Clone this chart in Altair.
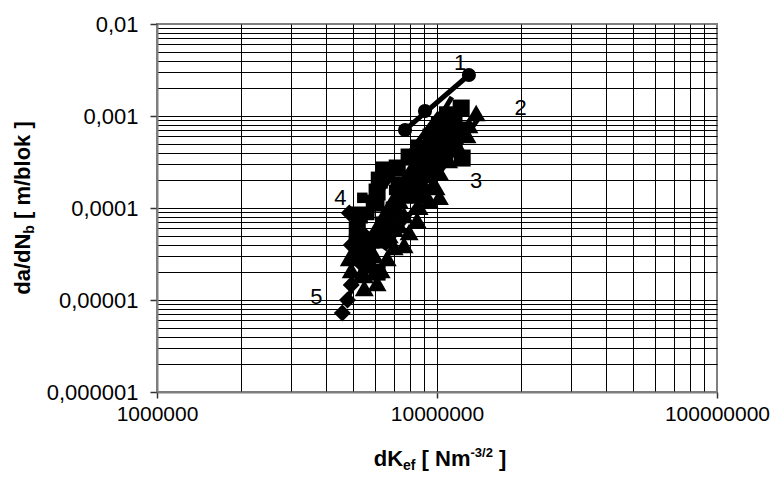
import altair as alt
import pandas as pd

# ---------------- data ----------------
# curve 1 : circles
circ_x = [7.69e6, 9.06e6, 1.30e7]
circ_y = [7.05e-4, 1.13e-3, 2.79e-3]

# triangles
tri_x = [1.38e7, 1.30e7, 1.28e7, 1.18e7, 1.10e7, 1.02e7, 9.92e6, 1.02e7, 8.99e6, 8.63e6,
         8.49e6, 7.95e6, 7.63e6, 7.03e6, 6.64e6, 6.32e6, 6.11e6, 5.50e6, 4.94e6, 4.86e6,
         9.37e6, 8.28e6, 7.32e6, 6.75e6,
         8.99e6, 7.95e6, 7.32e6, 6.22e6, 5.97e6, 7.03e6, 7.63e6, 5.73e6, 5.50e6]
tri_y = [1.08e-3, 7.98e-4, 6.21e-4, 4.84e-4, 3.32e-4, 2.46e-4, 1.69e-4, 1.32e-4, 1.78e-4, 1.03e-4,
         7.41e-5, 5.48e-5, 3.96e-5, 3.77e-5, 2.86e-5, 2.12e-5, 1.53e-5, 1.35e-5, 2.12e-5, 2.86e-5,
         1.22e-4, 1.38e-4, 6.54e-5, 5.09e-5,
         2.28e-4, 1.57e-4, 1.22e-4, 5.77e-5, 3.08e-5, 6.07e-5, 8.39e-5, 3.50e-5, 1.87e-5]

# large squares
sq_x = [1.22e7, 1.09e7, 1.02e7, 9.52e6, 8.63e6, 7.95e6, 1.23e7, 6.48e6, 7.21e6, 6.22e6,
        6.11e6, 5.97e6, 5.28e6, 5.19e6, 5.19e6, 5.28e6, 6.11e6, 8.63e6, 7.32e6, 9.37e6,
        7.03e6, 6.48e6, 5.82e6, 7.63e6, 1.06e7, 1.15e7,
        9.37e6, 8.28e6, 1.06e7, 1.15e7, 1.20e7, 9.76e6, 8.63e6, 6.75e6, 6.48e6, 5.64e6]
sq_y = [1.22e-3, 1.03e-3, 7.98e-4, 5.91e-4, 4.49e-4, 3.58e-4, 3.49e-4, 2.59e-4, 2.72e-4, 2.01e-4,
        1.49e-4, 1.13e-4, 8.39e-5, 5.77e-5, 4.17e-5, 3.08e-5, 2.01e-5, 2.93e-4, 1.78e-4, 4.27e-4,
        9.51e-5, 6.54e-5, 4.49e-5, 1.38e-4, 5.48e-4, 7.98e-4,
        2.59e-4, 2.01e-4, 3.77e-4, 5.48e-4, 7.05e-4, 3.32e-4, 1.38e-4, 8.39e-5, 4.49e-5, 2.40e-5]

# small squares
ssq_x = [5.41e6, 5.73e6, 6.22e6, 7.03e6, 7.95e6, 8.99e6]
ssq_y = [1.29e-4, 8.39e-5, 1.08e-4, 1.57e-4, 2.28e-4, 3.32e-4]

# diamonds
dia_x = [4.59e6, 4.79e6, 4.94e6, 4.86e6, 5.19e6, 4.94e6, 5.28e6, 5.50e6]
dia_y = [7.23e-6, 1.0e-5, 1.46e-5, 8.83e-5, 7.05e-5, 3.96e-5, 2.59e-5, 5.09e-5]

# fitted lines (end points)
line_id = ["1", "1", "2", "2", "3", "3", "4", "4", "5", "5"]
line_x = [7.69e6, 1.30e7, 5.07e6, 1.13e7, 6.48e6, 1.41e7, 5.15e6, 1.02e7, 4.67e6, 7.63e6]
line_y = [7.05e-4, 2.79e-3, 2.59e-5, 1.61e-3, 3.5e-5, 9.5e-4, 6.54e-5, 1.10e-3, 8.82e-6, 2.01e-4]

# curve labels
lab_text = ["1", "2", "3", "4", "5"]
lab_x = [1.21e7, 1.99e7, 1.38e7, 4.52e6, 3.71e6]
lab_y = [3.77e-3, 1.22e-3, 1.96e-4, 1.29e-4, 1.08e-5]

# axis ticks / grid
x_grid = [m * 10 ** e for e in (6, 7) for m in range(1, 10)] + [1e8]
y_grid = [m * 10.0 ** e for e in (-6, -5, -4, -3) for m in range(1, 10)] + [1e-2]

FONT = "Liberation Sans"
W, H = 560, 368
LEFT, TOP = 157, 24

xs = alt.Scale(type="log", domain=[1e6, 1e8], nice=False)
ys = alt.Scale(type="log", domain=[1e-6, 1e-2], nice=False)

is_major = "abs(log(datum.value)/LN10 - round(log(datum.value)/LN10)) < 0.001"

x_axis = alt.Axis(
    values=x_grid, title=None, grid=True, gridColor="#000000", gridWidth=1,
    gridOpacity={"condition": {"test": "datum.value > 9.9e7", "value": 0}, "value": 1},
    tickOpacity={"condition": {"test": is_major, "value": 1}, "value": 0},
    tickSize=6, tickColor="#333333", tickWidth=1.5,
    labelExpr=f"({is_major}) ? format(datum.value, 'd') : ''",
    labelFont=FONT, labelFontSize=21, labelColor="#000000", labelPadding=5,
    labelFlush=False, labelOverlap=False, labelBound=False,
    domainColor="#7f7f7f", domainWidth=2,
)
y_axis = alt.Axis(
    values=y_grid, title=None, grid=True, gridColor="#000000", gridWidth=1,
    gridOpacity={"condition": {"test": "datum.value > 0.0099", "value": 0}, "value": 1},
    tickOpacity={"condition": {"test": is_major, "value": 1}, "value": 0},
    tickSize=7, tickColor="#333333", tickWidth=1.5,
    labelExpr=f"({is_major}) ? replace(format(datum.value, '.6~f'), '.', ',') : ''",
    labelFont=FONT, labelFontSize=22, labelColor="#000000", labelPadding=12,
    labelFlush=False, labelOverlap=False, labelBound=False,
    domainColor="#7f7f7f", domainWidth=2,
)

def pts(xv, yv, shape, size):
    df = pd.DataFrame({"x": xv, "y": yv})
    return alt.Chart(df).mark_point(shape=shape, size=size, filled=True, color="#000000",
                                    opacity=1, strokeWidth=0).encode(
        x=alt.X("x:Q", scale=xs, axis=x_axis),
        y=alt.Y("y:Q", scale=ys, axis=y_axis),
    )

lines_df = pd.DataFrame({"id": line_id, "x": line_x, "y": line_y})
lines = alt.Chart(lines_df).mark_line(color="#000000", strokeWidth=5).encode(
    x=alt.X("x:Q", scale=xs, axis=x_axis),
    y=alt.Y("y:Q", scale=ys, axis=y_axis),
    detail="id:N",
)

lab_df = pd.DataFrame({"t": lab_text, "x": lab_x, "y": lab_y})
labels = alt.Chart(lab_df).mark_text(font=FONT, fontSize=22, color="#000000",
                                     align="center", baseline="middle").encode(
    x=alt.X("x:Q", scale=xs, axis=x_axis),
    y=alt.Y("y:Q", scale=ys, axis=y_axis),
    text="t:N",
)

# ---- axis titles with sub/superscripts (pieces placed one after another) ----
BW = {"d": .611, "a": .556, "/": .278, "N": .722, "b": .611, " ": .278, "[": .333, "]": .333,
      "m": .889, "l": .278, "o": .611, "k": .556, "K": .722, "e": .556, "f": .333, "-": .333,
      "3": .556, "2": .556}

def tw(s, size):
    return sum(BW.get(c, .556) for c in s) * size

one = pd.DataFrame({"a": [0]})

def txt(s, x, y, size, angle=0):
    return alt.Chart(one).mark_text(text=s, font=FONT, fontWeight="bold", fontSize=size,
                                    color="#000000", align="left", baseline="alphabetic",
                                    angle=angle).encode(x=alt.value(x), y=alt.value(y))

def pieces(parts):
    # parts: (text, size, shift); spaces are advances only
    out, pos = [], 0.0
    for s, z, sh in parts:
        if s.strip():
            out.append((s, z, sh, pos))
        pos += tw(s, z)
    return out, pos

# y title (rotated, reads bottom-to-top)
yp, ytot = pieces([("da/dN", 22, 0), ("b", 14, 4), (" ", 22, 0), ("[", 22, 0), (" ", 22, 0),
                   ("m/blok", 22, 0), (" ", 22, 0), ("]", 22, 0)])
ystart = (208 - TOP) + ytot / 2
ybase = 30 - LEFT
ytitle = [txt(s, ybase + sh, ystart - p, z, angle=270) for s, z, sh, p in yp]

# x title
xp, xtot = pieces([("dK", 22, 0), ("ef", 14, 4), (" ", 22, 0), ("[", 22, 0), (" ", 22, 0),
                   ("Nm", 22, 0), ("-3/2", 13, -9), (" ", 22, 0), ("]", 22, 0)])
xstart = (440 - LEFT) - xtot / 2
xbase = 466 - TOP
xtitle = [txt(s, xstart + p, xbase + sh, z) for s, z, sh, p in xp]

chart = alt.layer(
    lines,
    pts(sq_x, sq_y, "square", 290),
    pts(tri_x, tri_y, "triangle-up", 360),
    pts(ssq_x, ssq_y, "square", 110),
    pts(dia_x, dia_y, "diamond", 290),
    pts(circ_x, circ_y, "circle", 200),
    labels,
    *ytitle,
    *xtitle,
).properties(
    width=W, height=H,
    autosize=alt.AutoSizeParams(type="none"),
    padding={"left": LEFT, "top": TOP, "right": 772 - LEFT - W, "bottom": 479 - TOP - H},
    background="#ffffff",
).configure_view(stroke="#7f7f7f", strokeWidth=2)

chart.save("out.html", embed_options={"renderer": "svg", "actions": False})
